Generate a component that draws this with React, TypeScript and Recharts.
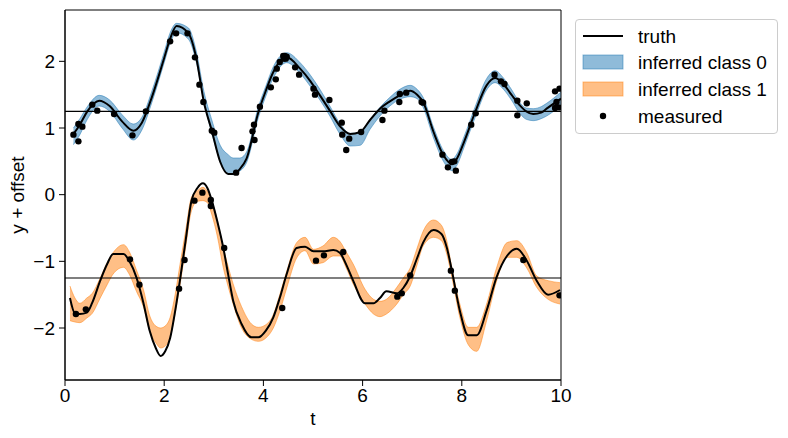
import { ComposedChart, Area, Line, Scatter, XAxis, YAxis, ReferenceLine, ReferenceArea } from 'recharts';

const FONT = '"Liberation Sans", Arial, sans-serif';
const BLUE = '#1f77b4';
const ORANGE = '#ff7f0e';

const xTicks = [0, 2, 4, 6, 8, 10];
const yTicks = [-2, -1, 0, 1, 2];
const offsets = [1.25, -1.25];

// class 0 (upper, offset +1.25)
const t0 = [0.17, 0.3, 0.45, 0.69, 0.9, 1.15, 1.38, 1.55, 1.75, 2.0, 2.12, 2.25, 2.49, 2.65, 2.8, 2.96, 3.13, 3.29, 3.39, 3.52, 3.66, 3.9, 4.05, 4.2, 4.47, 4.74, 4.95, 5.14, 5.34, 5.55, 5.75, 5.95, 6.15, 6.35, 6.55, 6.75, 6.96, 7.1, 7.22, 7.43, 7.63, 7.8, 7.9, 8.05, 8.27, 8.5, 8.67, 8.84, 9.0, 9.17, 9.3, 9.44, 9.6, 9.71, 10.0];
const truth0 = [0.91, 1.05, 1.25, 1.41, 1.33, 1.1, 0.96, 1.08, 1.46, 2.05, 2.34, 2.53, 2.42, 2.04, 1.39, 0.96, 0.49, 0.31, 0.31, 0.38, 0.54, 1.24, 1.56, 1.84, 2.06, 1.89, 1.7, 1.49, 1.26, 1.02, 0.91, 0.94, 1.12, 1.29, 1.4, 1.49, 1.56, 1.5, 1.39, 0.94, 0.59, 0.46, 0.54, 0.8, 1.24, 1.64, 1.75, 1.66, 1.5, 1.34, 1.25, 1.21, 1.23, 1.29, 1.44];
const lo0 = [0.75, 0.9, 1.13, 1.33, 1.25, 1.0, 0.82, 0.97, 1.38, 1.98, 2.27, 2.43, 2.33, 1.98, 1.4, 0.92, 0.5, 0.31, 0.3, 0.35, 0.48, 1.16, 1.48, 1.75, 1.98, 1.82, 1.62, 1.42, 1.18, 0.9, 0.73, 0.74, 0.98, 1.18, 1.33, 1.43, 1.47, 1.44, 1.31, 0.85, 0.5, 0.36, 0.44, 0.72, 1.16, 1.57, 1.68, 1.58, 1.42, 1.22, 1.13, 1.11, 1.14, 1.18, 1.34];
const hi0 = [1.0, 1.14, 1.32, 1.49, 1.42, 1.2, 1.06, 1.16, 1.55, 2.14, 2.43, 2.57, 2.5, 2.14, 1.55, 1.12, 0.74, 0.6, 0.55, 0.55, 0.64, 1.32, 1.63, 1.92, 2.13, 1.98, 1.79, 1.58, 1.33, 1.06, 0.92, 0.93, 1.13, 1.31, 1.46, 1.58, 1.64, 1.58, 1.46, 1.01, 0.66, 0.53, 0.61, 0.88, 1.32, 1.74, 1.86, 1.75, 1.58, 1.38, 1.3, 1.29, 1.32, 1.37, 1.54];

// class 1 (lower, offset -1.25)
const t1 = [0.1, 0.2, 0.3, 0.44, 0.55, 0.71, 0.85, 0.97, 1.18, 1.3, 1.44, 1.58, 1.71, 1.83, 1.93, 2.02, 2.12, 2.22, 2.32, 2.43, 2.55, 2.67, 2.78, 2.87, 2.96, 3.07, 3.19, 3.29, 3.39, 3.56, 3.76, 3.9, 4.05, 4.2, 4.33, 4.47, 4.67, 4.84, 5.01, 5.2, 5.41, 5.54, 5.67, 5.81, 6.05, 6.22, 6.35, 6.48, 6.69, 6.82, 6.96, 7.1, 7.22, 7.43, 7.59, 7.7, 7.8, 7.96, 8.13, 8.3, 8.5, 8.7, 8.91, 9.11, 9.31, 9.51, 9.74, 9.98];
const truth1 = [-1.55, -1.78, -1.79, -1.77, -1.62, -1.29, -1.04, -0.89, -0.89, -1.0, -1.24, -1.62, -2.05, -2.3, -2.42, -2.35, -2.15, -1.75, -1.27, -0.7, -0.09, 0.1, 0.17, 0.1, -0.09, -0.4, -0.79, -1.2, -1.59, -1.94, -2.14, -2.14, -2.04, -1.84, -1.55, -1.19, -0.8, -0.78, -0.85, -0.85, -0.83, -0.87, -1.05, -1.29, -1.63, -1.63, -1.55, -1.45, -1.48, -1.4, -1.22, -0.95, -0.72, -0.53, -0.59, -0.8, -1.14, -1.74, -2.11, -2.11, -1.74, -1.24, -0.92, -0.81, -0.99, -1.29, -1.5, -1.43];
const lo1 = [-1.89, -1.91, -1.92, -1.85, -1.78, -1.55, -1.35, -1.19, -1.09, -1.2, -1.45, -1.68, -2.05, -2.22, -2.3, -2.27, -2.14, -1.78, -1.35, -0.8, -0.24, -0.1, -0.09, -0.12, -0.3, -0.62, -1.09, -1.38, -1.64, -2.0, -2.17, -2.2, -2.15, -2.0, -1.75, -1.4, -0.95, -0.84, -1.04, -1.02, -0.92, -0.92, -1.1, -1.34, -1.64, -1.79, -1.83, -1.79, -1.64, -1.5, -1.37, -1.05, -0.77, -0.64, -0.69, -0.9, -1.24, -1.84, -2.25, -2.35, -1.89, -1.3, -0.94, -0.94, -1.1, -1.39, -1.57, -1.64];
const hi1 = [-1.37, -1.55, -1.63, -1.55, -1.48, -1.25, -1.02, -0.87, -0.75, -0.86, -1.13, -1.42, -1.82, -1.97, -2.0, -1.97, -1.84, -1.5, -1.04, -0.55, -0.04, 0.06, 0.11, 0.05, -0.1, -0.38, -0.79, -1.08, -1.34, -1.68, -1.94, -1.99, -1.95, -1.8, -1.5, -1.15, -0.72, -0.64, -0.82, -0.77, -0.64, -0.7, -0.86, -1.04, -1.42, -1.57, -1.6, -1.57, -1.39, -1.25, -1.1, -0.8, -0.55, -0.38, -0.46, -0.7, -1.1, -1.64, -1.99, -1.99, -1.64, -1.1, -0.72, -0.69, -0.87, -1.22, -1.29, -1.32];

// measured points (both classes, already offset)
const measuredT = [0.17, 0.27, 0.27, 0.35, 0.55, 0.65, 0.99, 1.36, 1.63, 2.12, 2.24, 2.47, 2.62, 2.71, 2.79, 2.96, 3.01, 3.45, 3.56, 3.78, 3.81, 3.82, 3.93, 4.15, 4.25, 4.27, 4.33, 4.4, 4.43, 4.47, 4.41, 4.45, 4.64, 4.72, 5.01, 5.04, 5.33, 5.58, 5.59, 5.67, 5.73, 5.97, 6.4, 6.44, 6.74, 6.75, 6.88, 7.19, 7.22, 7.61, 7.72, 7.8, 7.85, 7.88, 8.19, 8.28, 8.66, 8.79, 8.86, 9.12, 9.12, 9.31, 9.88, 9.97, 9.91, 9.88, 9.95,
  0.22, 0.42, 1.31, 1.5, 2.3, 2.41, 2.61, 2.77, 2.94, 2.94, 3.21, 4.38, 5.06, 5.22, 5.61, 6.7, 6.79, 6.96, 7.78, 7.86, 9.24, 9.97];
const measuredY = [0.9, 0.8, 1.06, 1.02, 1.35, 1.26, 1.21, 0.89, 1.25, 2.3, 2.42, 2.42, 2.06, 1.65, 1.39, 0.96, 0.93, 0.33, 0.7, 0.95, 1.05, 0.82, 1.32, 1.61, 1.73, 1.89, 1.99, 2.08, 2.08, 2.07, 2.04, 2.04, 1.91, 1.8, 1.59, 1.5, 1.42, 1.08, 0.9, 0.67, 0.84, 0.94, 1.12, 1.26, 1.39, 1.51, 1.53, 1.39, 1.38, 0.6, 0.41, 0.49, 0.5, 0.36, 1.05, 1.22, 1.8, 1.7, 1.66, 1.41, 1.19, 1.37, 1.55, 1.59, 1.39, 1.3, 1.31,
  -1.79, -1.72, -0.97, -1.35, -1.41, -0.98, -0.09, 0.03, -0.08, -0.17, -0.8, -1.7, -0.99, -0.91, -0.86, -1.53, -1.48, -1.21, -1.14, -1.44, -0.98, -1.51];

const class0 = t0.map((t, i) => ({ t, truth: truth0[i], band: [lo0[i], hi0[i]] }));
const class1 = t1.map((t, i) => ({ t, truth: truth1[i], band: [lo1[i], hi1[i]] }));
const measured = measuredT.map((t, i) => ({ t, y: measuredY[i] }));

const fmt = (v: number) => String(v).replace('-', '\u2212');
const tickStyle = { fill: '#000', fontSize: 19, fontFamily: FONT };

const Dot = (p: any) => <circle cx={p.cx} cy={p.cy} r={3.2} fill="#000" />;

export default function App() {
  return (
    <div style={{ position: 'absolute', left: 0, top: 0, width: 788, height: 438, background: '#fff', fontFamily: FONT }}>
      <ComposedChart width={788} height={438} margin={{ top: 10, right: 227, bottom: 18, left: 0 }}>
        <XAxis
          dataKey="t"
          type="number"
          domain={[0, 10]}
          ticks={xTicks}
          allowDataOverflow
          stroke="#000"
          tick={tickStyle}
          tickSize={6}
          tickMargin={3}
          height={40}
          tickFormatter={fmt}
          label={{
            content: (p: any) => (
              <text x={p.viewBox.x + p.viewBox.width / 2} y={p.viewBox.y + 45} textAnchor="middle" fontSize={19} fontFamily={FONT} fill="#000">t</text>
            ),
          }}
        />
        <YAxis
          type="number"
          domain={[-2.78, 2.77]}
          ticks={yTicks}
          allowDataOverflow
          width={65}
          stroke="#000"
          tick={tickStyle}
          tickSize={6}
          tickMargin={4}
          tickFormatter={fmt}
          label={{
            content: (p: any) => {
              const cx = p.viewBox.x + 17;
              const cy = p.viewBox.y + p.viewBox.height / 2;
              return (
                <text x={cx} y={cy} transform={`rotate(-90 ${cx} ${cy})`} textAnchor="middle" dominantBaseline="central" fontSize={19} fontFamily={FONT} fill="#000">y + offset</text>
              );
            },
          }}
        />
        <Area data={class0} dataKey="band" type="monotone" fill={BLUE} fillOpacity={0.5} stroke={BLUE} strokeOpacity={0.5} strokeWidth={1} isAnimationActive={false} />
        <Area data={class1} dataKey="band" type="monotone" fill={ORANGE} fillOpacity={0.5} stroke={ORANGE} strokeOpacity={0.5} strokeWidth={1} isAnimationActive={false} />
        {offsets.map((o) => (
          <ReferenceLine key={o} y={o} stroke="#000" strokeWidth={1.1} />
        ))}
        <Line data={class0} dataKey="truth" type="monotone" stroke="#000" strokeWidth={2} dot={false} isAnimationActive={false} />
        <Line data={class1} dataKey="truth" type="monotone" stroke="#000" strokeWidth={2} dot={false} isAnimationActive={false} />
        <Scatter data={measured} dataKey="y" shape={Dot} isAnimationActive={false} />
        <ReferenceArea x1={0} x2={10} y1={-2.78} y2={2.77} fill="none" stroke="#000" strokeWidth={1} />
      </ComposedChart>
      <div style={{ position: 'absolute', left: 575, top: 19, width: 201, height: 113, border: '1px solid #cccccc', borderRadius: 4, background: '#fff' }}>
        <svg width={201} height={113} style={{ position: 'absolute', left: 0, top: 0 }}>
          <line x1={7} x2={47} y1={16} y2={16} stroke="#000" strokeWidth={2} />
          <rect x={7} y={35} width={40} height={14} fill={BLUE} fillOpacity={0.5} stroke={BLUE} strokeOpacity={0.5} />
          <rect x={7} y={62} width={40} height={14} fill={ORANGE} fillOpacity={0.5} stroke={ORANGE} strokeOpacity={0.5} />
          <circle cx={27} cy={96} r={3.2} fill="#000" />
          {['truth', 'inferred class 0', 'inferred class 1', 'measured'].map((s, i) => (
            <text key={s} x={62} y={16 + i * 26.7} dominantBaseline="central" fontSize={19} fontFamily={FONT} fill="#000">{s}</text>
          ))}
        </svg>
      </div>
    </div>
  );
}
